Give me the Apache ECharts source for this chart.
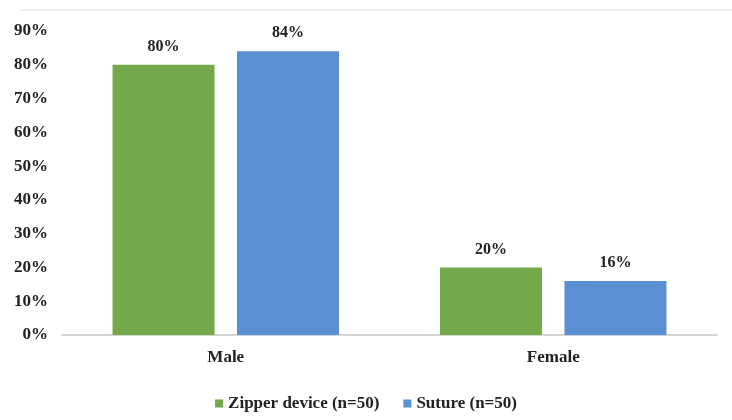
<!DOCTYPE html>
<html>
<head>
<meta charset="utf-8">
<script src="https://cdn.jsdelivr.net/npm/echarts@6/dist/echarts.min.js"></script>
<style>
  html, body { margin: 0; padding: 0; background: #fff; }
  #chart { width: 732px; height: 420px; }
</style>
</head>
<body>
<div id="chart"></div>
<script>
var categories = ['Male', 'Female'];
var zipperValues = [80, 20];
var sutureValues = [84, 16];
var seriesNames = ['Zipper device (n=50)', 'Suture (n=50)'];

var chart = echarts.init(document.getElementById('chart'));
var fontFamily = '"Liberation Serif", "Times New Roman", serif';

var labelStyle = {
    show: true,
    position: 'top',
    distance: 10,
    formatter: '{c}%',
    fontFamily: fontFamily,
    fontWeight: 'bold',
    fontSize: 16,
    color: '#222'
};

chart.setOption({
    animation: false,
    // faint border line at the top of the original image
    graphic: [{
        type: 'line',
        shape: { x1: 20, y1: 10, x2: 732, y2: 10 },
        style: { stroke: '#efefef', lineWidth: 2 }
    }],
    grid: { left: 62, right: 15, top: 31, bottom: 85 },
    legend: {
        data: seriesNames,
        bottom: 3,
        left: 'center',
        itemWidth: 8,
        itemHeight: 8,
        itemGap: 24,
        icon: 'rect',
        textStyle: { fontFamily: fontFamily, fontWeight: 'bold', fontSize: 17, color: '#222' }
    },
    xAxis: {
        type: 'category',
        data: categories,
        axisLine: { lineStyle: { color: '#d4d4d4', width: 2 } },
        axisTick: { show: false },
        axisLabel: { margin: 14, fontFamily: fontFamily, fontWeight: 'bold', fontSize: 17, color: '#222' }
    },
    yAxis: {
        type: 'value',
        min: 0,
        max: 90,
        interval: 10,
        splitLine: { show: false },
        axisLine: { show: false },
        axisTick: { show: false },
        axisLabel: { formatter: '{value}%', margin: 14, fontFamily: fontFamily, fontWeight: 'bold', fontSize: 17, color: '#222' }
    },
    series: [
        {
            name: seriesNames[0],
            type: 'bar',
            data: zipperValues,
            barWidth: 102,
            barGap: '22%',
            itemStyle: { color: '#73a84b' },
            label: labelStyle
        },
        {
            name: seriesNames[1],
            type: 'bar',
            data: sutureValues,
            barWidth: 102,
            itemStyle: { color: '#5b8fd3' },
            label: labelStyle
        }
    ]
});
</script>
</body>
</html>
